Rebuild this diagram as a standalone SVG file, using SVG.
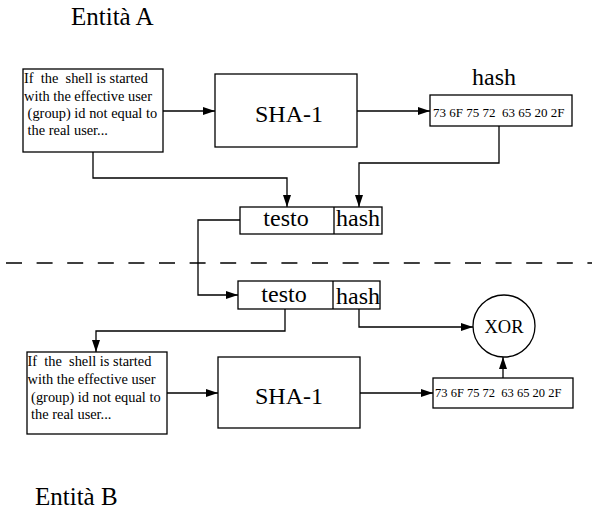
<svg xmlns="http://www.w3.org/2000/svg" width="609" height="511" viewBox="0 0 609 511">
<style>
.box{fill:#fff;stroke:#000;stroke-width:1.3}
.ln{fill:none;stroke:#000;stroke-width:1.3}
text{fill:#000}
.big{font-size:24px}
.title{font-size:25px}
.body{font-size:14.4px}
.hex{font-size:13px}
</style>
<defs>
<marker id="ah" markerWidth="12" markerHeight="10" refX="12" refY="5" orient="auto" markerUnits="userSpaceOnUse">
<path d="M0,1 L12,5 L0,9 Z" fill="#000"/>
</marker>
</defs>
<rect width="609" height="511" fill="#fff"/>
<g font-family="Liberation Serif, DejaVu Serif, serif">
<text class="title" x="71" y="25">Entità A</text>
<text class="title" x="35" y="505">Entità B</text>
<text class="big" x="472" y="85">hash</text>
<g id="connectors">
<path class="ln" d="M163,111 H215" marker-end="url(#ah)"/>
<path class="ln" d="M357,111 H430" marker-end="url(#ah)"/>
<path class="ln" d="M499,126 V163 H359 V207" marker-end="url(#ah)"/>
<path class="ln" d="M93,152 V178 H287 V207" marker-end="url(#ah)"/>
<path class="ln" d="M240,220 H198 V295 H238" marker-end="url(#ah)"/>
<path class="ln" d="M285,309 V331 H96 V352" marker-end="url(#ah)"/>
<path class="ln" d="M167,393 H218" marker-end="url(#ah)"/>
<path class="ln" d="M360,393 H433" marker-end="url(#ah)"/>
<path class="ln" d="M359,309 V327 H473" marker-end="url(#ah)"/>
<path class="ln" d="M503,378 V357" marker-end="url(#ah)"/>
<path class="ln" d="M6,263 H592" stroke-dasharray="16,14.6"/>
</g>
<g id="textA">
<rect class="box" x="23" y="69" width="140" height="83"/>
<text class="body" x="24" y="83" xml:space="preserve">If  the  shell is started</text>
<text class="body" x="24" y="100.5">with the effective user</text>
<text class="body" x="24" y="118" xml:space="preserve"> (group) id not equal to</text>
<text class="body" x="24" y="135" xml:space="preserve"> the real user...</text>
</g>
<g id="shaA">
<rect class="box" x="215" y="74" width="142" height="73"/>
<text class="big" x="289" y="122" text-anchor="middle">SHA-1</text>
</g>
<g id="hashA">
<rect class="box" x="430" y="95" width="142" height="31"/>
<text class="hex" x="433" y="116.5" xml:space="preserve">73 6F 75 72  63 65 20 2F</text>
</g>
<g id="msgA">
<rect class="box" x="240" y="207" width="142" height="27"/>
<line class="ln" x1="334" y1="207" x2="334" y2="234"/>
<text class="big" x="286" y="226" text-anchor="middle">testo</text>
<text class="big" x="336" y="226">hash</text>
</g>
<g id="msgB">
<rect class="box" x="238" y="281" width="142" height="28"/>
<line class="ln" x1="333" y1="281" x2="333" y2="309"/>
<text class="big" x="284" y="302" text-anchor="middle">testo</text>
<text class="big" x="336" y="304">hash</text>
</g>
<g id="textB">
<rect class="box" x="27" y="352" width="140" height="82"/>
<text class="body" x="27.5" y="366" xml:space="preserve">If  the  shell is started</text>
<text class="body" x="27.5" y="384">with the effective user</text>
<text class="body" x="27.5" y="402" xml:space="preserve"> (group) id not equal to</text>
<text class="body" x="27.5" y="419" xml:space="preserve"> the real user...</text>
</g>
<g id="shaB">
<rect class="box" x="218" y="357" width="142" height="71"/>
<text class="big" x="289" y="404" text-anchor="middle">SHA-1</text>
</g>
<g id="hashB">
<rect class="box" x="433" y="378" width="140" height="30"/>
<text x="435" y="397" font-size="12.5" xml:space="preserve">73 6F 75 72  63 65 20 2F</text>
</g>
<g id="xor">
<circle class="box" cx="504" cy="326" r="31"/>
<text x="504" y="333" font-size="18.5" text-anchor="middle">XOR</text>
</g>
</g>
</svg>
